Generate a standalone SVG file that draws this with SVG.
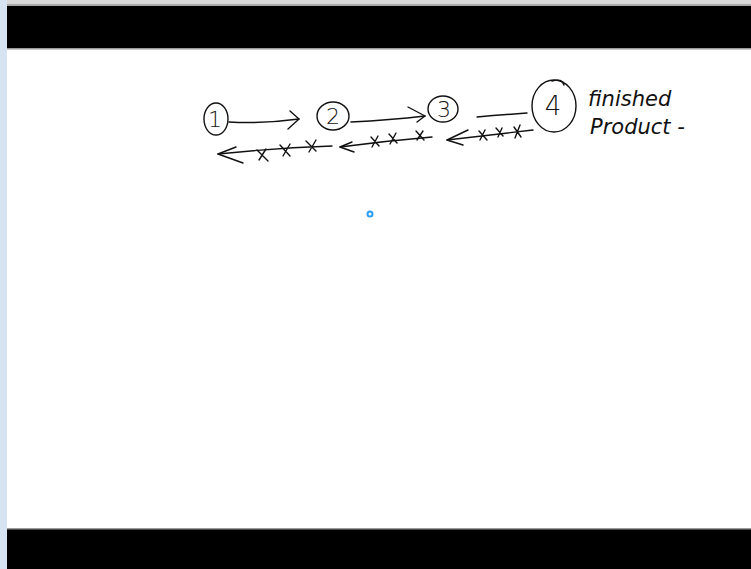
<svg xmlns="http://www.w3.org/2000/svg" width="751" height="569" viewBox="0 0 751 569">
<style>
.ink{fill:none;stroke:#111;stroke-width:1.4;stroke-linecap:round;stroke-linejoin:round}
.num{font-family:"DejaVu Sans","Liberation Sans",sans-serif;font-weight:200;font-size:22px;fill:#111;text-anchor:middle}
.lbl{font-family:"DejaVu Sans","Liberation Sans",sans-serif;font-weight:200;font-style:italic;font-size:21px;fill:#111}
</style>
<rect x="0" y="0" width="751" height="569" fill="#ffffff"/>
<rect x="0" y="0" width="751" height="5" fill="#d8d8d8"/>
<rect x="0" y="4" width="751" height="2" fill="#a8a8a8"/>
<rect x="7" y="6" width="744" height="42" fill="#000"/>
<rect x="7" y="48" width="744" height="1.5" fill="#9a9a9a"/>
<rect x="7" y="529" width="744" height="40" fill="#000"/>
<rect x="7" y="528" width="744" height="1.5" fill="#9a9a9a"/>
<rect x="0" y="0" width="7" height="569" fill="#d6e3f2"/>

<g id="node-1">
<ellipse class="ink" cx="216" cy="119" rx="12" ry="16"/>
<text class="num" x="215" y="127">1</text>
</g>
<g id="node-2">
<ellipse class="ink" cx="333" cy="116" rx="16" ry="14"/>
<text class="num" x="333" y="124">2</text>
</g>
<g id="node-3">
<ellipse class="ink" cx="443" cy="109" rx="15" ry="13"/>
<text class="num" x="444" y="117">3</text>
</g>
<g id="node-4">
<ellipse class="ink" cx="554" cy="106" rx="22" ry="26"/>
<path class="ink" d="M552 81 Q562 78 564 85"/>
<text class="num" x="553" y="115" style="font-size:26px">4</text>
</g>
<g id="label-finished">
<text class="lbl" x="588" y="106">finished</text>
<text class="lbl" x="590" y="134">Product -</text>
</g>

<g id="connectors">
<path class="ink" d="M229 122 Q262 124 299 119"/>
<path class="ink" d="M290 111 L299 119 L288 129"/>
<path class="ink" d="M351 122 Q390 120 425 116"/>
<path class="ink" d="M408 107 L425 116 L417 122"/>
<path class="ink" d="M477 117 Q500 115 527 113"/>
<path class="ink" d="M533 130 Q490 135 447 140"/>
<path class="ink" d="M468 130 L447 140 L463 145"/>
<path class="ink" d="M479 131 L487 140 M485 130 L480 140 M496 128 L503 136 M502 128 L498 137 M514 127 L521 137 M520 125 L515 138"/>
<path class="ink" d="M432 137 Q385 141 340 147"/>
<path class="ink" d="M352 142 L340 147 L354 152"/>
<path class="ink" d="M371 137 L379 146 M378 136 L372 147 M389 134 L397 143 M396 133 L390 144 M416 131 L424 140 M423 131 L417 140"/>
<path class="ink" d="M332 146 Q275 148 218 154"/>
<path class="ink" d="M236 147 L218 154 L243 163"/>
<path class="ink" d="M257 150 L268 161 M266 149 L259 160 M280 145 L290 156 M290 144 L283 156 M306 141 L316 151 M316 140 L309 152"/>
</g>
<circle cx="370" cy="214" r="2.5" fill="none" stroke="#2a9df0" stroke-width="2"/>
</svg>
